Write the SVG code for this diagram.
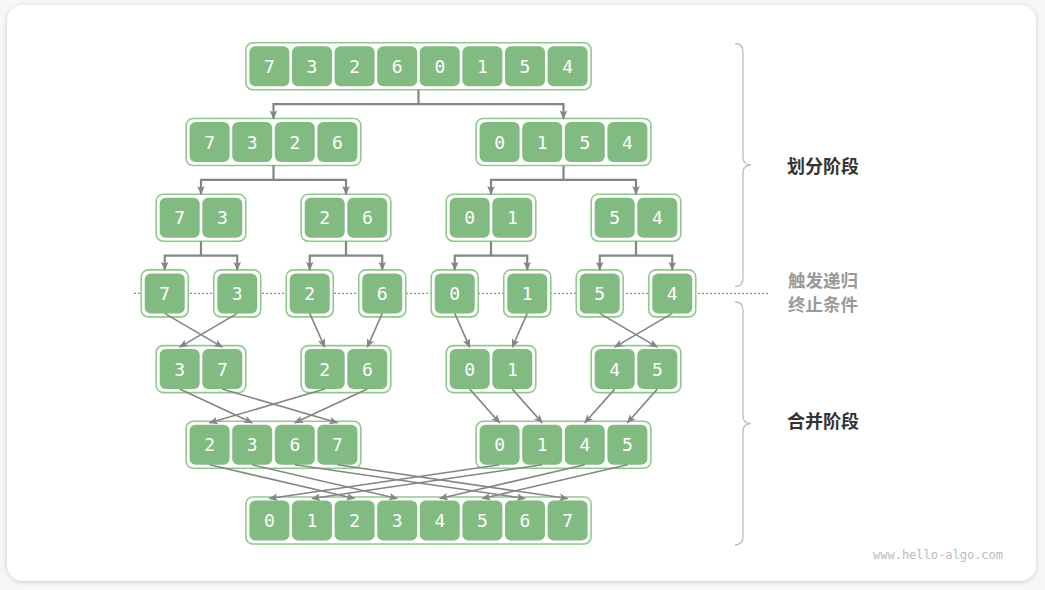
<svg xmlns="http://www.w3.org/2000/svg" width="1045" height="590" viewBox="0 0 1045 590">
<defs>
<style>
.box{fill:#ffffff;stroke:#8fc98f;stroke-width:1.6}
.cell{fill:#82bb82}
.num{font-family:"DejaVu Sans Mono","Liberation Mono",monospace;font-size:18px;fill:#ffffff;text-anchor:middle;dominant-baseline:central}
.split{fill:none;stroke:#858585;stroke-width:2.2;marker-end:url(#ah);marker-start:url(#ah)}
.stub{fill:none;stroke:#858585;stroke-width:2.2}
.merge{fill:none;stroke:#858585;stroke-width:1.6;marker-end:url(#am)}
.brace{fill:none;stroke:#bdbdbd;stroke-width:1.3}
.lbl{font-family:"Noto Sans CJK SC","Noto Sans",sans-serif;font-size:18px;font-weight:bold;text-anchor:middle;dominant-baseline:central}
.sub{font-size:17.5px}
</style>
<marker id="ah" viewBox="0 0 10 10" markerUnits="userSpaceOnUse" markerWidth="9" markerHeight="9" refX="9" refY="5" orient="auto-start-reverse"><path d="M0,0.8 L10,5 L0,9.2 L2.2,5 Z" fill="#858585"/></marker>
<marker id="am" viewBox="0 0 10 10" markerUnits="userSpaceOnUse" markerWidth="9" markerHeight="9" refX="9" refY="5" orient="auto"><path d="M0,0.8 L10,5 L0,9.2 L2.2,5 Z" fill="#858585"/></marker>
<filter id="sh" x="-5%" y="-5%" width="110%" height="110%"><feDropShadow dx="0" dy="1" stdDeviation="2.5" flood-color="#000" flood-opacity="0.18"/></filter>
</defs>
<rect x="0" y="0" width="1045" height="590" fill="#f7f7f7"/>
<rect x="7" y="5" width="1029" height="576" rx="16" fill="#ffffff" filter="url(#sh)"/>

<line x1="134" y1="293.4" x2="768" y2="293.4" stroke="#8a8a8a" stroke-width="1.2" stroke-dasharray="2 2"/>

<g id="nodes">
<g id="r1">
<rect class="box" x="245.9" y="42.8" width="345.2" height="47" rx="7"/>
<rect class="cell" x="249.4" y="46.3" width="40" height="40" rx="6"/><text class="num" x="269.4" y="66.3">7</text>
<rect class="cell" x="292" y="46.3" width="40" height="40" rx="6"/><text class="num" x="312" y="66.3">3</text>
<rect class="cell" x="334.6" y="46.3" width="40" height="40" rx="6"/><text class="num" x="354.6" y="66.3">2</text>
<rect class="cell" x="377.2" y="46.3" width="40" height="40" rx="6"/><text class="num" x="397.2" y="66.3">6</text>
<rect class="cell" x="419.8" y="46.3" width="40" height="40" rx="6"/><text class="num" x="439.8" y="66.3">0</text>
<rect class="cell" x="462.4" y="46.3" width="40" height="40" rx="6"/><text class="num" x="482.4" y="66.3">1</text>
<rect class="cell" x="505" y="46.3" width="40" height="40" rx="6"/><text class="num" x="525" y="66.3">5</text>
<rect class="cell" x="547.6" y="46.3" width="40" height="40" rx="6"/><text class="num" x="567.6" y="66.3">4</text>
</g>
<g id="r2a">
<rect class="box" x="186.1" y="118.5" width="174.8" height="47" rx="7"/>
<rect class="cell" x="189.6" y="122" width="40" height="40" rx="6"/><text class="num" x="209.6" y="142">7</text>
<rect class="cell" x="232.2" y="122" width="40" height="40" rx="6"/><text class="num" x="252.2" y="142">3</text>
<rect class="cell" x="274.8" y="122" width="40" height="40" rx="6"/><text class="num" x="294.8" y="142">2</text>
<rect class="cell" x="317.4" y="122" width="40" height="40" rx="6"/><text class="num" x="337.4" y="142">6</text>
</g>
<g id="r2b">
<rect class="box" x="476.1" y="118.5" width="174.8" height="47" rx="7"/>
<rect class="cell" x="479.6" y="122" width="40" height="40" rx="6"/><text class="num" x="499.6" y="142">0</text>
<rect class="cell" x="522.2" y="122" width="40" height="40" rx="6"/><text class="num" x="542.2" y="142">1</text>
<rect class="cell" x="564.8" y="122" width="40" height="40" rx="6"/><text class="num" x="584.8" y="142">5</text>
<rect class="cell" x="607.4" y="122" width="40" height="40" rx="6"/><text class="num" x="627.4" y="142">4</text>
</g>
<g id="r3a">
<rect class="box" x="156.2" y="194.2" width="89.6" height="47" rx="7"/>
<rect class="cell" x="159.7" y="197.7" width="40" height="40" rx="6"/><text class="num" x="179.7" y="217.7">7</text>
<rect class="cell" x="202.3" y="197.7" width="40" height="40" rx="6"/><text class="num" x="222.3" y="217.7">3</text>
</g>
<g id="r3b">
<rect class="box" x="301.2" y="194.2" width="89.6" height="47" rx="7"/>
<rect class="cell" x="304.7" y="197.7" width="40" height="40" rx="6"/><text class="num" x="324.7" y="217.7">2</text>
<rect class="cell" x="347.3" y="197.7" width="40" height="40" rx="6"/><text class="num" x="367.3" y="217.7">6</text>
</g>
<g id="r3c">
<rect class="box" x="446.2" y="194.2" width="89.6" height="47" rx="7"/>
<rect class="cell" x="449.7" y="197.7" width="40" height="40" rx="6"/><text class="num" x="469.7" y="217.7">0</text>
<rect class="cell" x="492.3" y="197.7" width="40" height="40" rx="6"/><text class="num" x="512.3" y="217.7">1</text>
</g>
<g id="r3d">
<rect class="box" x="591.2" y="194.2" width="89.6" height="47" rx="7"/>
<rect class="cell" x="594.7" y="197.7" width="40" height="40" rx="6"/><text class="num" x="614.7" y="217.7">5</text>
<rect class="cell" x="637.3" y="197.7" width="40" height="40" rx="6"/><text class="num" x="657.3" y="217.7">4</text>
</g>
<g id="r4a"><rect class="box" x="141.25" y="269.9" width="47" height="47" rx="7"/><rect class="cell" x="144.75" y="273.4" width="40" height="40" rx="6"/><text class="num" x="164.75" y="293.4">7</text></g>
<g id="r4b"><rect class="box" x="213.75" y="269.9" width="47" height="47" rx="7"/><rect class="cell" x="217.25" y="273.4" width="40" height="40" rx="6"/><text class="num" x="237.25" y="293.4">3</text></g>
<g id="r4c"><rect class="box" x="286.25" y="269.9" width="47" height="47" rx="7"/><rect class="cell" x="289.75" y="273.4" width="40" height="40" rx="6"/><text class="num" x="309.75" y="293.4">2</text></g>
<g id="r4d"><rect class="box" x="358.75" y="269.9" width="47" height="47" rx="7"/><rect class="cell" x="362.25" y="273.4" width="40" height="40" rx="6"/><text class="num" x="382.25" y="293.4">6</text></g>
<g id="r4e"><rect class="box" x="431.25" y="269.9" width="47" height="47" rx="7"/><rect class="cell" x="434.75" y="273.4" width="40" height="40" rx="6"/><text class="num" x="454.75" y="293.4">0</text></g>
<g id="r4f"><rect class="box" x="503.75" y="269.9" width="47" height="47" rx="7"/><rect class="cell" x="507.25" y="273.4" width="40" height="40" rx="6"/><text class="num" x="527.25" y="293.4">1</text></g>
<g id="r4g"><rect class="box" x="576.25" y="269.9" width="47" height="47" rx="7"/><rect class="cell" x="579.75" y="273.4" width="40" height="40" rx="6"/><text class="num" x="599.75" y="293.4">5</text></g>
<g id="r4h"><rect class="box" x="648.75" y="269.9" width="47" height="47" rx="7"/><rect class="cell" x="652.25" y="273.4" width="40" height="40" rx="6"/><text class="num" x="672.25" y="293.4">4</text></g>
<g id="r5a">
<rect class="box" x="156.2" y="345.6" width="89.6" height="47" rx="7"/>
<rect class="cell" x="159.7" y="349.1" width="40" height="40" rx="6"/><text class="num" x="179.7" y="369.1">3</text>
<rect class="cell" x="202.3" y="349.1" width="40" height="40" rx="6"/><text class="num" x="222.3" y="369.1">7</text>
</g>
<g id="r5b">
<rect class="box" x="301.2" y="345.6" width="89.6" height="47" rx="7"/>
<rect class="cell" x="304.7" y="349.1" width="40" height="40" rx="6"/><text class="num" x="324.7" y="369.1">2</text>
<rect class="cell" x="347.3" y="349.1" width="40" height="40" rx="6"/><text class="num" x="367.3" y="369.1">6</text>
</g>
<g id="r5c">
<rect class="box" x="446.2" y="345.6" width="89.6" height="47" rx="7"/>
<rect class="cell" x="449.7" y="349.1" width="40" height="40" rx="6"/><text class="num" x="469.7" y="369.1">0</text>
<rect class="cell" x="492.3" y="349.1" width="40" height="40" rx="6"/><text class="num" x="512.3" y="369.1">1</text>
</g>
<g id="r5d">
<rect class="box" x="591.2" y="345.6" width="89.6" height="47" rx="7"/>
<rect class="cell" x="594.7" y="349.1" width="40" height="40" rx="6"/><text class="num" x="614.7" y="369.1">4</text>
<rect class="cell" x="637.3" y="349.1" width="40" height="40" rx="6"/><text class="num" x="657.3" y="369.1">5</text>
</g>
<g id="r6a">
<rect class="box" x="186.1" y="421.3" width="174.8" height="47" rx="7"/>
<rect class="cell" x="189.6" y="424.8" width="40" height="40" rx="6"/><text class="num" x="209.6" y="444.8">2</text>
<rect class="cell" x="232.2" y="424.8" width="40" height="40" rx="6"/><text class="num" x="252.2" y="444.8">3</text>
<rect class="cell" x="274.8" y="424.8" width="40" height="40" rx="6"/><text class="num" x="294.8" y="444.8">6</text>
<rect class="cell" x="317.4" y="424.8" width="40" height="40" rx="6"/><text class="num" x="337.4" y="444.8">7</text>
</g>
<g id="r6b">
<rect class="box" x="476.1" y="421.3" width="174.8" height="47" rx="7"/>
<rect class="cell" x="479.6" y="424.8" width="40" height="40" rx="6"/><text class="num" x="499.6" y="444.8">0</text>
<rect class="cell" x="522.2" y="424.8" width="40" height="40" rx="6"/><text class="num" x="542.2" y="444.8">1</text>
<rect class="cell" x="564.8" y="424.8" width="40" height="40" rx="6"/><text class="num" x="584.8" y="444.8">4</text>
<rect class="cell" x="607.4" y="424.8" width="40" height="40" rx="6"/><text class="num" x="627.4" y="444.8">5</text>
</g>
<g id="r7">
<rect class="box" x="245.9" y="497" width="345.2" height="47" rx="7"/>
<rect class="cell" x="249.4" y="500.5" width="40" height="40" rx="6"/><text class="num" x="269.4" y="520.5">0</text>
<rect class="cell" x="292" y="500.5" width="40" height="40" rx="6"/><text class="num" x="312" y="520.5">1</text>
<rect class="cell" x="334.6" y="500.5" width="40" height="40" rx="6"/><text class="num" x="354.6" y="520.5">2</text>
<rect class="cell" x="377.2" y="500.5" width="40" height="40" rx="6"/><text class="num" x="397.2" y="520.5">3</text>
<rect class="cell" x="419.8" y="500.5" width="40" height="40" rx="6"/><text class="num" x="439.8" y="520.5">4</text>
<rect class="cell" x="462.4" y="500.5" width="40" height="40" rx="6"/><text class="num" x="482.4" y="520.5">5</text>
<rect class="cell" x="505" y="500.5" width="40" height="40" rx="6"/><text class="num" x="525" y="520.5">6</text>
<rect class="cell" x="547.6" y="500.5" width="40" height="40" rx="6"/><text class="num" x="567.6" y="520.5">7</text>
</g>
</g>

<g id="connectors">
<path class="stub" d="M418.5,89.8 V104.2"/>
<path class="split" d="M273.5,118.5 V104.2 H563.5 V118.5"/>
<path class="stub" d="M273.5,165.5 V179.85 M563.5,165.5 V179.85"/>
<path class="split" d="M201,194.2 V179.85 H346 V194.2"/>
<path class="split" d="M491,194.2 V179.85 H636 V194.2"/>
<path class="stub" d="M201,241.2 V255.55 M346,241.2 V255.55 M491,241.2 V255.55 M636,241.2 V255.55"/>
<path class="split" d="M164.75,269.9 V255.55 H237.25 V269.9"/>
<path class="split" d="M309.75,269.9 V255.55 H382.25 V269.9"/>
<path class="split" d="M454.75,269.9 V255.55 H527.25 V269.9"/>
<path class="split" d="M599.75,269.9 V255.55 H672.25 V269.9"/>

<line class="merge" x1="164.75" y1="313.4" x2="222.3" y2="347.1"/>
<line class="merge" x1="237.25" y1="313.4" x2="179.7" y2="347.1"/>
<line class="merge" x1="309.75" y1="313.4" x2="324.7" y2="347.1"/>
<line class="merge" x1="382.25" y1="313.4" x2="367.3" y2="347.1"/>
<line class="merge" x1="454.75" y1="313.4" x2="469.7" y2="347.1"/>
<line class="merge" x1="527.25" y1="313.4" x2="512.3" y2="347.1"/>
<line class="merge" x1="599.75" y1="313.4" x2="657.3" y2="347.1"/>
<line class="merge" x1="672.25" y1="313.4" x2="614.7" y2="347.1"/>

<line class="merge" x1="179.7" y1="389.1" x2="252.2" y2="422.8"/>
<line class="merge" x1="222.3" y1="389.1" x2="337.4" y2="422.8"/>
<line class="merge" x1="324.7" y1="389.1" x2="209.6" y2="422.8"/>
<line class="merge" x1="367.3" y1="389.1" x2="294.8" y2="422.8"/>
<line class="merge" x1="469.7" y1="389.1" x2="499.6" y2="422.8"/>
<line class="merge" x1="512.3" y1="389.1" x2="542.2" y2="422.8"/>
<line class="merge" x1="614.7" y1="389.1" x2="584.8" y2="422.8"/>
<line class="merge" x1="657.3" y1="389.1" x2="627.4" y2="422.8"/>

<line class="merge" x1="209.6" y1="464.8" x2="354.6" y2="498.5"/>
<line class="merge" x1="252.2" y1="464.8" x2="397.2" y2="498.5"/>
<line class="merge" x1="294.8" y1="464.8" x2="525" y2="498.5"/>
<line class="merge" x1="337.4" y1="464.8" x2="567.6" y2="498.5"/>
<line class="merge" x1="499.6" y1="464.8" x2="269.4" y2="498.5"/>
<line class="merge" x1="542.2" y1="464.8" x2="312" y2="498.5"/>
<line class="merge" x1="584.8" y1="464.8" x2="439.8" y2="498.5"/>
<line class="merge" x1="627.4" y1="464.8" x2="482.4" y2="498.5"/>
</g>

<g id="braces">
<path class="brace" d="M735,43.5 Q743,43.5 743,52 L743,157 Q743,165 751,165 Q743,165 743,173 L743,278 Q743,286.5 735,286.5"/>
<path class="brace" d="M735,302 Q743,302 743,310.5 L743,415.5 Q743,423.5 751,423.5 Q743,423.5 743,431.5 L743,536.5 Q743,545 735,545"/>
</g>

<g id="labels">
<text class="lbl" x="823" y="165" fill="#333333">划分阶段</text>
<text class="lbl sub" x="823" y="279.5" fill="#9a9a9a">触发递归</text>
<text class="lbl sub" x="823" y="303" fill="#9a9a9a">终止条件</text>
<text class="lbl" x="823" y="420" fill="#333333">合并阶段</text>
<text x="873" y="555" font-family="DejaVu Sans Mono,Liberation Mono,monospace" font-size="12" fill="#bbbbbb" dominant-baseline="central">www.hello-algo.com</text>
</g>
</svg>
